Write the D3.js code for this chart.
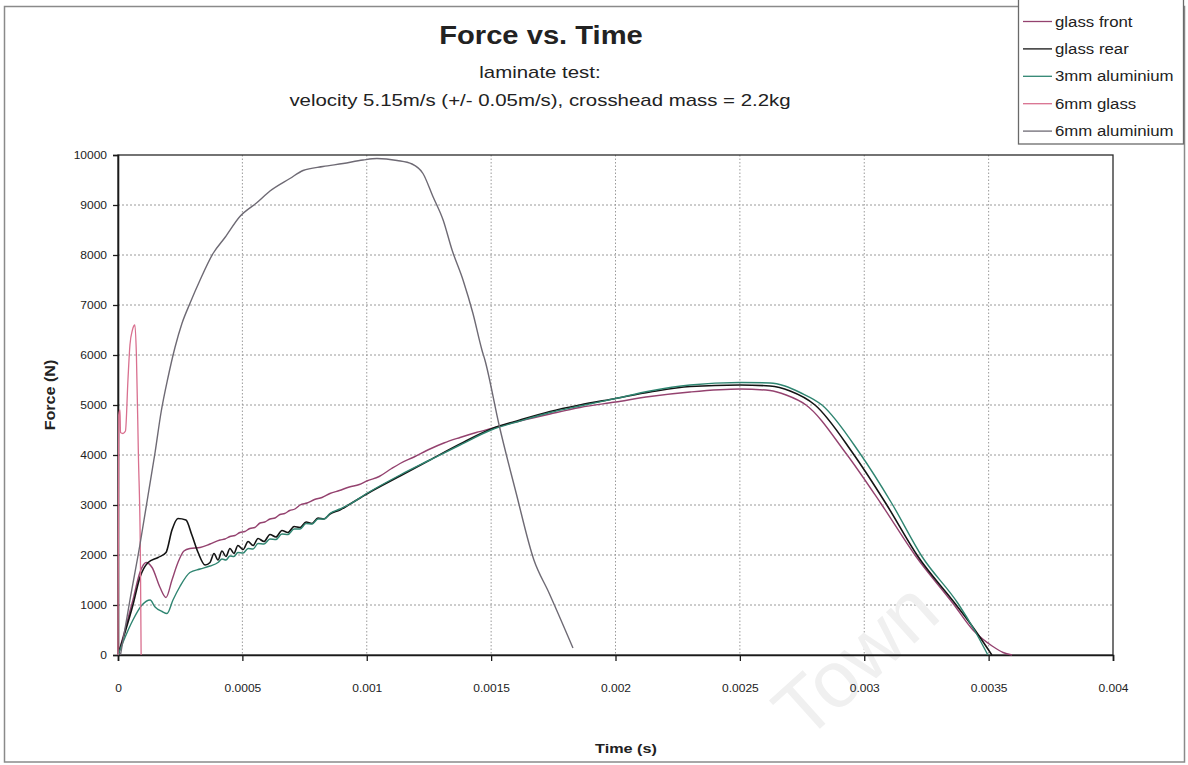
<!DOCTYPE html>
<html>
<head>
<meta charset="utf-8">
<script src="https://cdn.jsdelivr.net/npm/d3@7"></script>
<style>
  html, body { margin: 0; padding: 0; background: #ffffff; }
  svg text { font-family: "Liberation Sans", Arial, Helvetica, sans-serif; }
</style>
</head>
<body>
<svg id="chart" width="1188" height="765"></svg>
<script>
// ---- data: [time (s), force (N)] ----
const seriesNames = ["glass front", "glass rear", "3mm aluminium", "6mm glass", "6mm aluminium"];

const glassFront = [
  [0, 0], [0.000028, 500], [0.00006, 1100], [0.000088, 1650], [0.000113, 1850],
  [0.000137, 1750], [0.000169, 1350], [0.000193, 1150], [0.000217, 1500], [0.000241, 1850],
  [0.000265, 2080], [0.000289, 2130], [0.00033, 2150], [0.00037, 2220], [0.00041, 2300],
  [0.00043, 2320], [0.00045, 2370], [0.00047, 2390], [0.00049, 2450], [0.00051, 2470],
  [0.00053, 2530], [0.00055, 2550], [0.000571, 2640], [0.00059, 2660], [0.000611, 2720],
  [0.000631, 2740], [0.000651, 2810], [0.00067, 2830], [0.00069, 2890], [0.000711, 2920],
  [0.000732, 3000], [0.00076, 3040], [0.00079, 3110], [0.00082, 3150], [0.000852, 3230],
  [0.00089, 3290], [0.00093, 3360], [0.00097, 3410], [0.001, 3480], [0.00105, 3570],
  [0.00110, 3730], [0.001134, 3830], [0.00119, 3960], [0.001254, 4120], [0.00131, 4240],
  [0.001375, 4350], [0.00144, 4450], [0.0015, 4530], [0.001616, 4680], [0.001737, 4820],
  [0.001857, 4950], [0.002, 5060], [0.002139, 5170], [0.0023, 5260], [0.0025, 5320],
  [0.002621, 5290], [0.002686, 5200], [0.002766, 5000], [0.002927, 4030], [0.003067, 3030],
  [0.003208, 1970], [0.003357, 1030], [0.003437, 500], [0.003517, 170], [0.003558, 50],
  [0.003594, 0]
];

const glassRear = [
  [0, 0], [0.000028, 450], [0.00006, 1000], [0.000088, 1550], [0.000121, 1850],
  [0.000161, 1950], [0.000193, 2050], [0.000217, 2500], [0.000241, 2730], [0.000273, 2700],
  [0.000297, 2400], [0.000322, 2050], [0.00035, 1800], [0.00037, 1850], [0.000386, 2030],
  [0.000402, 1900], [0.000418, 2080], [0.000434, 1970], [0.00045, 2130], [0.000466, 2030],
  [0.000482, 2190], [0.000503, 2110], [0.000523, 2270], [0.000543, 2190], [0.000563, 2330],
  [0.000587, 2270], [0.000611, 2410], [0.000635, 2360], [0.000659, 2490], [0.000683, 2450],
  [0.000708, 2570], [0.000732, 2550], [0.000756, 2660], [0.00078, 2630], [0.000804, 2740],
  [0.000828, 2720], [0.000852, 2820], [0.000892, 2900], [0.000933, 3020], [0.001, 3220],
  [0.001134, 3580], [0.001254, 3900], [0.001375, 4220], [0.0015, 4520], [0.001616, 4700],
  [0.001737, 4870], [0.001857, 5000], [0.002, 5130], [0.002139, 5260], [0.0023, 5370],
  [0.0025, 5400], [0.002621, 5380], [0.002702, 5280], [0.002802, 5000], [0.002955, 4030],
  [0.003087, 3030], [0.003216, 1970], [0.003365, 1030], [0.003445, 500], [0.003513, 0]
];

const alu3mm = [
  [0, 0], [0.000028, 350], [0.00006, 700], [0.0000965, 1000], [0.000129, 1100],
  [0.000149, 960], [0.000177, 870], [0.000197, 830], [0.000221, 1100], [0.000249, 1370],
  [0.000289, 1650], [0.00033, 1720], [0.00037, 1780], [0.000402, 1850], [0.000418, 1920],
  [0.000434, 1900], [0.00045, 1980], [0.000466, 1970], [0.000482, 2050], [0.000503, 2040],
  [0.000523, 2130], [0.000543, 2120], [0.000563, 2230], [0.000587, 2220], [0.000611, 2320],
  [0.000635, 2310], [0.000659, 2420], [0.000683, 2410], [0.000708, 2520], [0.000732, 2520],
  [0.000756, 2630], [0.00078, 2620], [0.000804, 2720], [0.000828, 2720], [0.000852, 2830],
  [0.000892, 2920], [0.000933, 3020], [0.001, 3230], [0.001134, 3600], [0.001254, 3900],
  [0.001375, 4200], [0.0015, 4500], [0.001616, 4680], [0.001737, 4850], [0.001857, 4980],
  [0.002, 5130], [0.002139, 5280], [0.0023, 5400], [0.0025, 5450], [0.002621, 5440],
  [0.002681, 5380], [0.002742, 5250], [0.00283, 5000], [0.002983, 4030], [0.003111, 3030],
  [0.003232, 1970], [0.003377, 1030], [0.003445, 480], [0.003497, 0]
];

const glass6mm = [
  [0, 0], [0.000003, 4800], [0.000008, 4900], [0.00001, 4450], [0.00002, 4430],
  [0.00003, 4480], [0.00004, 5500], [0.000048, 6200], [0.000058, 6500], [0.000068, 6600],
  [0.000074, 6000], [0.000082, 4000], [0.00009, 2000], [0.000093, 0]
];

const alu6mm = [
  [0.00001, 0], [0.000048, 1100], [0.000088, 2200], [0.000121, 3200], [0.000149, 4050],
  [0.000173, 4850], [0.000201, 5550], [0.000229, 6150], [0.000257, 6630], [0.000289, 7030],
  [0.00033, 7500], [0.000382, 8030], [0.00043, 8350], [0.00049, 8770], [0.000559, 9050],
  [0.000611, 9280], [0.000691, 9530], [0.000744, 9690], [0.000824, 9770], [0.000905, 9830],
  [0.000985, 9900], [0.001041, 9930], [0.001122, 9890], [0.001182, 9820], [0.001226, 9630],
  [0.001266, 9170], [0.001307, 8700], [0.001343, 8100], [0.001387, 7500], [0.001427, 6830],
  [0.001463, 6100], [0.001475, 5900], [0.001532, 4600], [0.0016, 3250], [0.001672, 1900],
  [0.001732, 1250], [0.001829, 140]
];

const xTicks = [0, 0.0005, 0.001, 0.0015, 0.002, 0.0025, 0.003, 0.0035, 0.004];
const xTickLabels = ["0", "0.0005", "0.001", "0.0015", "0.002", "0.0025", "0.003", "0.0035", "0.004"];
const yTicks = [0, 1000, 2000, 3000, 4000, 5000, 6000, 7000, 8000, 9000, 10000];

const titleText = "Force vs. Time";
const subtitleLines = ["laminate test:", "velocity 5.15m/s (+/- 0.05m/s), crosshead mass = 2.2kg"];
const xTitle = "Time (s)";
const yTitle = "Force (N)";

// ---- drawing ----
const seriesData = [glassFront, glassRear, alu3mm, glass6mm, alu6mm];
const seriesColors = ["#94426f", "#141414", "#2f8571", "#d9708f", "#6e6a74"];
const seriesWidths = [1.4, 1.6, 1.4, 1.3, 1.4];

const svg = d3.select("#chart");
const plot = { left: 118, right: 1113, top: 155, bottom: 655 };

const x = d3.scaleLinear().domain([0, 0.004]).range([plot.left, plot.right]);
const y = d3.scaleLinear().domain([0, 10000]).range([plot.bottom, plot.top]);

// Horizontal stretch for the rendered typeface
function widen(sel, k) {
  sel.each(function () {
    const w = this.getComputedTextLength();
    d3.select(this).attr("textLength", w * k).attr("lengthAdjust", "spacingAndGlyphs");
  });
}

// Outer chart frame
svg.append("rect")
  .attr("x", 4.5).attr("y", 6.5).attr("width", 1180).attr("height", 755.5)
  .attr("fill", "#fff").attr("stroke", "#8a8a8a").attr("stroke-width", 1.5);

// Gridlines
const grid = svg.append("g");
grid.selectAll("line.h")
  .data(yTicks.filter(v => v > 0 && v < 10000))
  .join("line")
  .attr("x1", plot.left).attr("x2", plot.right)
  .attr("y1", d => y(d)).attr("y2", d => y(d))
  .attr("stroke", "#9a9a9a").attr("stroke-width", 1).attr("stroke-dasharray", "2,2");
grid.selectAll("line.v")
  .data(xTicks.filter(v => v > 0 && v < 0.004))
  .join("line")
  .attr("x1", d => x(d)).attr("x2", d => x(d))
  .attr("y1", plot.top).attr("y2", plot.bottom)
  .attr("stroke", "#9a9a9a").attr("stroke-width", 1).attr("stroke-dasharray", "1.5,2");

// Faint watermark
svg.append("text")
  .attr("transform", "translate(874,680) rotate(-42)")
  .attr("text-anchor", "middle")
  .attr("font-size", 80)
  .attr("fill", "#f0f0f0")
  .text("Town");

// Plot frame
svg.append("rect")
  .attr("x", plot.left).attr("y", plot.top)
  .attr("width", plot.right - plot.left).attr("height", plot.bottom - plot.top)
  .attr("fill", "none").attr("stroke", "#2a2a2a").attr("stroke-width", 1.3);

// Axes
const xAxis = d3.axisBottom(x).tickValues(xTicks)
  .tickFormat((d, i) => xTickLabels[i]).tickSize(6).tickPadding(24);
const gx = svg.append("g").attr("transform", `translate(0,${plot.bottom})`).call(xAxis);
gx.select(".domain").attr("stroke", "#1a1a1a").attr("stroke-width", 1.6);
gx.selectAll(".tick line").attr("stroke", "#1a1a1a").attr("stroke-width", 1.3);
gx.selectAll(".tick text").attr("font-size", 10).attr("fill", "#222")
  .attr("font-family", "'Liberation Sans', Arial, sans-serif");
widen(gx.selectAll(".tick text"), 1.2);

const yAxis = d3.axisLeft(y).tickValues(yTicks).tickFormat(d3.format("d")).tickSize(5).tickPadding(6);
const gy = svg.append("g").attr("transform", `translate(${plot.left},0)`).call(yAxis);
gy.select(".domain").attr("stroke", "#1a1a1a").attr("stroke-width", 1.6);
gy.selectAll(".tick line").attr("stroke", "#1a1a1a").attr("stroke-width", 1.3);
gy.selectAll(".tick text").attr("font-size", 10).attr("fill", "#222")
  .attr("font-family", "'Liberation Sans', Arial, sans-serif");
widen(gy.selectAll(".tick text"), 1.2);

// Series lines
const line = d3.line().x(d => x(d[0])).y(d => y(d[1])).curve(d3.curveMonotoneX);
svg.append("g").selectAll("path")
  .data(seriesData)
  .join("path")
  .attr("d", line)
  .attr("fill", "none")
  .attr("stroke", (d, i) => seriesColors[i])
  .attr("stroke-width", (d, i) => seriesWidths[i])
  .attr("stroke-linejoin", "round");

// Titles
const title = svg.append("text")
  .attr("x", 541).attr("y", 44).attr("text-anchor", "middle")
  .attr("font-size", 26.5).attr("font-weight", "bold").attr("fill", "#222")
  .text(titleText);
widen(title, 1.1);

const subs = svg.selectAll("text.sub")
  .data(subtitleLines)
  .join("text")
  .attr("class", "sub")
  .attr("x", 540).attr("y", (d, i) => 78 + i * 28)
  .attr("text-anchor", "middle")
  .attr("font-size", 17).attr("fill", "#222")
  .text(d => d);
widen(subs, 1.2);

const xt = svg.append("text")
  .attr("x", 626).attr("y", 753).attr("text-anchor", "middle")
  .attr("font-size", 13.5).attr("font-weight", "bold").attr("fill", "#222")
  .text(xTitle);
widen(xt, 1.2);

const yt = svg.append("text")
  .attr("transform", "translate(55,395) rotate(-90)")
  .attr("text-anchor", "middle")
  .attr("font-size", 14).attr("font-weight", "bold").attr("fill", "#222")
  .text(yTitle);
widen(yt, 1.15);

// Legend
const legend = svg.append("g");
legend.append("rect")
  .attr("x", 1018.5).attr("y", -1).attr("width", 165).attr("height", 145)
  .attr("fill", "#fff").attr("stroke", "#6a6a6a").attr("stroke-width", 1.3);
const items = legend.selectAll("g.item")
  .data(seriesNames)
  .join("g")
  .attr("class", "item")
  .attr("transform", (d, i) => `translate(0,${21.5 + i * 27.4})`);
items.append("line")
  .attr("x1", 1023).attr("x2", 1052).attr("y1", 0).attr("y2", 0)
  .attr("stroke", (d, i) => seriesColors[i]).attr("stroke-width", 1.3);
const legText = items.append("text")
  .attr("x", 1055).attr("y", 5)
  .attr("font-size", 14).attr("fill", "#222")
  .text(d => d);
widen(legText, 1.2);
</script>
</body>
</html>
